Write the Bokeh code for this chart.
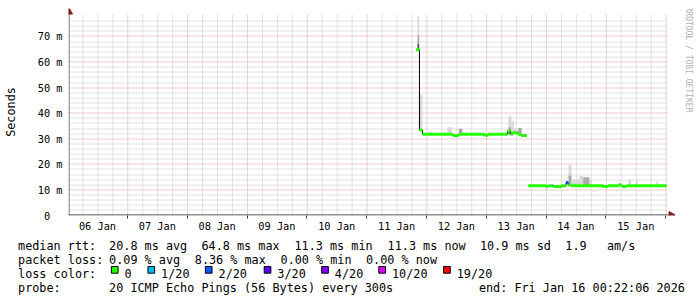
import math
from bokeh.plotting import figure
from bokeh.layouts import column
from bokeh.models import Range1d, FixedTicker
from bokeh.core.properties import value
from bokeh.embed import file_html
from bokeh.resources import INLINE

# ---------------- data ----------------
# time axis: hours after 06 Jan 00:00; graph spans 06 Jan 00:22:06 -> 16 Jan 00:22:06
T_START = 0.3683
T_END = 240.3683
Y_MAX_MS = 78.2

DAY_LABELS = ["06 Jan", "07 Jan", "08 Jan", "09 Jan", "10 Jan",
              "11 Jan", "12 Jan", "13 Jan", "14 Jan", "15 Jan"]
Y_TICK_MS = [0, 10, 20, 30, 40, 50, 60, 70]
Y_TICK_LABELS = ["0\u00a0\u00a0", "10 m", "20 m", "30 m", "40 m", "50 m", "60 m", "70 m"]

# median rtt, run 1 (start hour, value ms, lost pings index)
MED_A_T = [139.9, 141.2, 142.4, 154.6, 157.0, 167.2, 168.8, 176.5, 177.8, 178.7, 180.7, 181.9]
MED_A_V = [64.8, 33.4, 31.8, 31.3, 31.8, 31.4, 31.8, 32.9, 31.8, 32.4, 31.8, 31.3]
MED_A_L = [0, 0, 0, 0, 0, 0, 0, 0, 0, 0, 0, 0]
MED_A_END = 184.2
# median rtt, run 2
MED_B_T = [184.9, 192.0, 192.9, 194.6, 195.0, 198.2, 200.0, 200.9, 202.2, 215.0, 216.9, 221.3, 222.0, 222.6, 224.4]
MED_B_V = [11.6, 11.3, 11.6, 11.5, 11.3, 11.6, 12.9, 11.9, 11.6, 11.3, 11.6, 12.0, 11.6, 11.3, 11.6]
MED_B_L = [0, 0, 0, 1, 0, 0, 2, 0, 0, 0, 0, 0, 0, 0, 0]
MED_B_END = 240.3683

# smoke bands: start hour, end hour, low ms, high ms, ping density (1 sparse .. 3 dense)
SMOKE_T0 = [140.4, 140.4, 140.4, 141.2, 144.9, 152.4, 157.0, 176.9, 176.9, 176.9, 178.1, 179.1,
            180.8, 201.0, 201.0, 202.2, 205.3, 206.9, 209.3, 220.6, 224.9, 228.0, 236.1]
SMOKE_T1 = [141.1, 141.1, 141.1, 142.4, 146.1, 154.2, 158.4, 178.1, 178.1, 178.1, 179.1, 180.2,
            182.2, 202.2, 202.2, 205.3, 206.9, 209.3, 210.4, 222.0, 226.2, 228.9, 236.9]
SMOKE_LO = [70.4, 67.3, 64.8, 33.4, 31.8, 31.8, 31.8, 34.5, 33.2, 31.8, 31.8, 31.8,
            31.8, 15.6, 11.9, 11.6, 11.6, 11.6, 11.6, 11.6, 11.6, 11.6, 11.6]
SMOKE_HI = [78.0, 70.4, 67.3, 47.2, 32.6, 34.5, 33.9, 38.8, 34.5, 33.2, 36.9, 34.0,
            34.2, 19.8, 15.6, 14.1, 15.4, 15.0, 14.4, 12.6, 14.1, 13.7, 13.3]
SMOKE_D = [1, 2, 3, 1, 1, 1, 2, 1, 2, 3, 1, 1, 2, 1, 2, 1, 1, 2, 1, 1, 1, 1, 1]

LOSS_LABELS = ["0", "1/20", "2/20", "3/20", "4/20", "10/20", "19/20"]
LOSS_COLORS = ["#26ff00", "#00b8ff", "#0059ff", "#5e00ff", "#7e00ff", "#dd00ff", "#ff0000"]

RTT_STATS = ["20.8 ms avg", "64.8 ms max", "11.3 ms min", "11.3 ms now", "10.9 ms sd", "1.9", "am/s"]
LOSS_STATS = ["0.09 % avg", "8.36 % max", "0.00 % min", "0.00 % now"]
ROW_TITLES = ["median rtt:", "packet loss:", "loss color:", "probe:"]
PROBE_TEXT = "20 ICMP Echo Pings (56 Bytes) every 300s"
END_TEXT = "end: Fri Jan 16 00:22:06 2026"
WATERMARK = "RRDTOOL / TOBI OETIKER"

# ---------------- layout / style ----------------
W = 697
H1, H2 = 236, 61              # graph part, legend part
FL, FT, FB = 66, 8, 215       # frame left / top / bottom (canvas px)
GX1, GY0 = 666, 15            # right end and top of the graph area (canvas px)
MONO = "DejaVu Sans Mono"
SHADES = {1: "#d9d9d9", 2: "#a8a8a8", 3: "#505050"}
GRID_MINOR = "#c6c6c6"
GRID_MAJOR = "#e29e9e"
MS = 0.001
xpx = (T_END - T_START) / (GX1 - FL)          # hours per pixel
ypx = Y_MAX_MS * MS / (FB - GY0)              # seconds per pixel

def hx(px):   # canvas px -> hours
    return T_START + (px - FL) * xpx

def vy(py):   # canvas py -> seconds
    return (FB - py) * ypx

def snap_h(h):   # put a 1px line on a pixel centre
    return hx(math.floor(FL + (h - T_START) / xpx) + 0.5)

def snap_v(v):
    return vy(math.floor(FB - v / ypx) + 0.5)

p = figure(width=W, height=H1, output_backend="svg", toolbar_location=None,
           x_range=Range1d(T_START, hx(W)), y_range=Range1d(0, vy(FT)),
           min_border_left=FL, min_border_right=0, min_border_top=FT, min_border_bottom=H1 - FB)
p.background_fill_color = "white"
p.border_fill_color = "white"
p.outline_line_color = None
p.xgrid.visible = False
p.ygrid.visible = False

# grid (dotted): minor grey, major red
midnights = [24 * d for d in range(1, 11)]
six_h = [6 * k for k in range(1, 41) if k % 4]
y_major = [v * MS for v in Y_TICK_MS[1:]]
y_minor = [2 * k * MS for k in range(1, 39) if k % 5]
GTOP = vy(GY0 - 1.5)
gx0, gx1 = hx(FL + 1), hx(GX1)
for xs, col in ((six_h, GRID_MINOR), (midnights, GRID_MAJOR)):
    sx = [snap_h(h) for h in xs]
    p.segment(x0=sx, x1=sx, y0=[vy(FB - 1)] * len(sx), y1=[GTOP] * len(sx),
              line_color=col, line_dash="1 1", line_width=1)
for ys, col in ((y_minor, GRID_MINOR), (y_major, GRID_MAJOR)):
    sy = [snap_v(v) for v in ys]
    p.segment(x0=[gx0] * len(sy), x1=[gx1] * len(sy), y0=sy, y1=sy,
              line_color=col, line_dash="1 1", line_width=1)

# smoke
p.quad(left=SMOKE_T0, right=SMOKE_T1,
       bottom=[v * MS for v in SMOKE_LO], top=[v * MS for v in SMOKE_HI],
       fill_color=[SHADES[d] for d in SMOKE_D], line_color=None)

# median line (black step + loss-coloured thick segments)
for T, V, L, END in ((MED_A_T, MED_A_V, MED_A_L, MED_A_END), (MED_B_T, MED_B_V, MED_B_L, MED_B_END)):
    xs = T + [END]
    ys = [v * MS for v in V] + [V[-1] * MS]
    p.step(xs, ys, mode="after", line_color="#000000", line_width=1)
    p.segment(x0=T, x1=T[1:] + [END], y0=[v * MS for v in V], y1=[v * MS for v in V],
              line_color=[LOSS_COLORS[l] for l in L], line_width=3, line_cap="butt")

# axis lines and arrow heads
ARROW_C = "#7f1f1f"
p.segment(x0=[hx(FL + 0.5)], x1=[hx(FL + 0.5)], y0=[0], y1=[vy(12)], line_color="#555555", line_width=1)
p.segment(x0=[hx(FL)], x1=[hx(669)], y0=[vy(214.5)], y1=[vy(214.5)], line_color="#222222", line_width=1)
p.scatter(x=[hx(FL + 0.5)], y=[vy(11.5)], marker="triangle", size=7,
          fill_color=ARROW_C, line_color=ARROW_C)
p.scatter(x=[hx(670.5)], y=[vy(214.5)], marker="triangle", size=7, angle=-math.pi / 2,
          fill_color=ARROW_C, line_color=ARROW_C)

# watermark
p.text(x=[hx(688)], y=[vy(59)], text=[WATERMARK], angle=-math.pi / 2,
       text_align="center", text_baseline="middle", text_font=value(MONO),
       text_font_size="8px", text_color="#b0b0b0")

# axes
noons = [24 * i + 12 for i in range(len(DAY_LABELS))]
p.xaxis.ticker = FixedTicker(ticks=noons, minor_ticks=midnights)
p.xaxis.major_label_overrides = {t: lab for t, lab in zip(noons, DAY_LABELS)}
p.xaxis.axis_line_color = None
p.xaxis.major_tick_line_color = None
p.xaxis.major_tick_out = 0
p.xaxis.major_tick_in = 0
p.xaxis.minor_tick_out = 3
p.xaxis.minor_tick_in = 0
p.xaxis.minor_tick_line_color = "#333333"
p.xaxis.major_label_standoff = 1
p.xaxis.major_label_text_font = MONO
p.xaxis.major_label_text_font_size = "10.3px"
p.xaxis.major_label_text_color = "#000000"

yt = [v * MS for v in Y_TICK_MS]
p.yaxis.ticker = FixedTicker(ticks=yt)
p.yaxis.major_label_overrides = {t: lab for t, lab in zip(yt, Y_TICK_LABELS)}
p.yaxis.axis_line_color = None
p.yaxis.major_tick_line_color = None
p.yaxis.minor_tick_line_color = None
p.yaxis.major_tick_out = 0
p.yaxis.major_tick_in = 0
p.yaxis.major_label_standoff = 6
p.yaxis.major_label_text_font = MONO
p.yaxis.major_label_text_font_size = "10.3px"
p.yaxis.major_label_text_color = "#000000"
p.yaxis.axis_label = "Seconds"
p.yaxis.axis_label_text_font = MONO
p.yaxis.axis_label_text_font_size = "11.8px"
p.yaxis.axis_label_text_font_style = "normal"
p.yaxis.axis_label_text_color = "#000000"
p.yaxis.axis_label_standoff = 17

# ---------------- legend part (canvas px coordinates) ----------------
# the column layout aligns this frame with the graph frame (left edge at FL)
q = figure(width=W, height=H2, output_backend="svg", toolbar_location=None,
           x_range=Range1d(FL, W), y_range=Range1d(H1 + H2, H1),
           x_axis_type=None, y_axis_type=None,
           min_border_left=FL, min_border_right=0, min_border_top=0, min_border_bottom=0)
q.background_fill_color = "white"
q.border_fill_color = "white"
q.outline_line_color = None
q.xgrid.visible = False
q.ygrid.visible = False

BASES = [245.3, 259.3, 273.3, 287.3]
COL0 = 15.4
tx, ty, tt = [], [], []
def add(px, base, s):
    tx.append(px); ty.append(base); tt.append(s)

for title, b in zip(ROW_TITLES, BASES):
    add(COL0, b, title)
for s, px in zip(RTT_STATS, [106.7, 199.4, 292.7, 386.1, 478.7, 564.4, 606.1]):
    add(px, BASES[0], s)
for s, px in zip(LOSS_STATS, [106.7, 192.7, 278.7, 364.4]):
    add(px, BASES[1], s)
BOX_X = [109, 145.7, 203.3, 262.3, 320, 377.3, 442.3]
for lab, bx in zip(LOSS_LABELS, BOX_X):
    add(bx + 13.2, BASES[2], lab)
add(106.7, BASES[3], PROBE_TEXT)
add(477.7, BASES[3], END_TEXT)

q.text(x=tx, y=ty, text=tt, text_align="left", text_baseline="alphabetic",
       text_font=value(MONO), text_font_size="11.8px", text_color="#000000", level="overlay")
q.quad(left=BOX_X, right=[b + 6.7 for b in BOX_X], top=[266] * len(BOX_X), bottom=[272.7] * len(BOX_X),
       fill_color=LOSS_COLORS, line_color="#000000", line_width=1, level="overlay")

layout = column(p, q, spacing=0)
open("out.html", "w").write(file_html(layout, INLINE))
